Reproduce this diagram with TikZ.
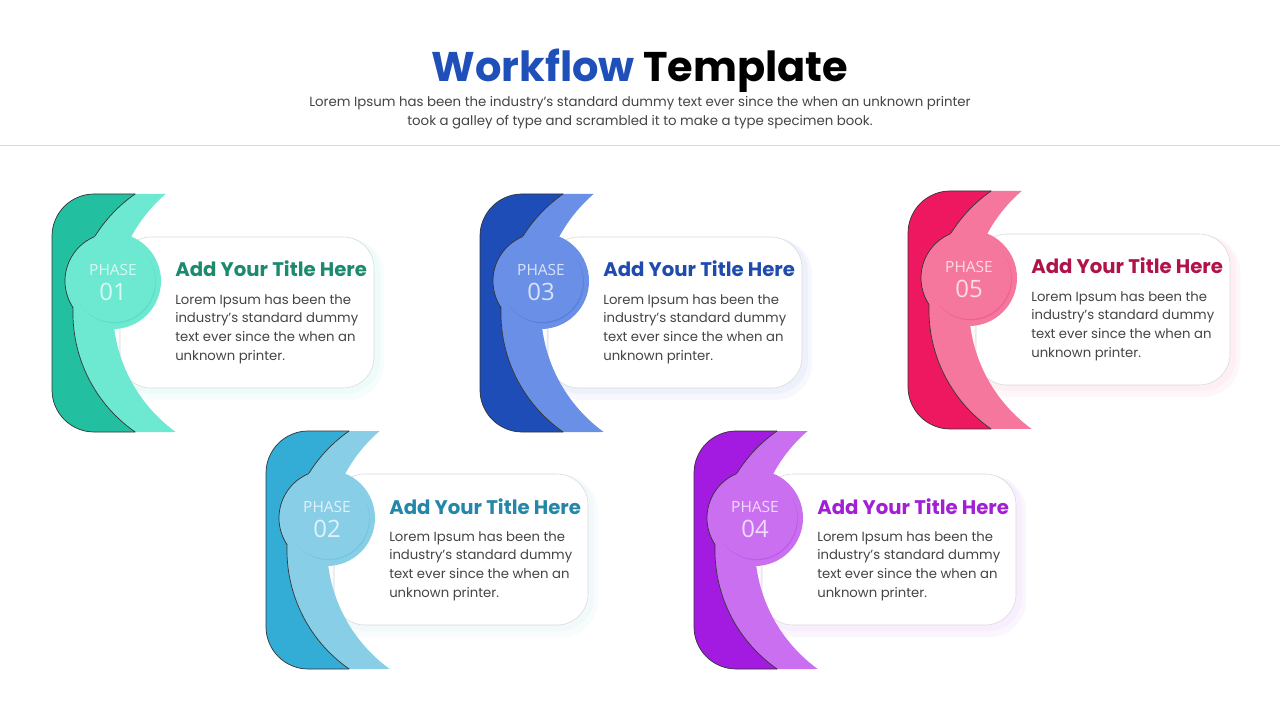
\documentclass[tikz,border=0pt]{standalone}
\usepackage{fontspec}
\setmainfont{Poppins}
\newfontfamily\phasefont{Open Sans}
\usepackage{tikz}

\definecolor{dark01}{HTML}{22BFA0}
\definecolor{light01}{HTML}{6DE8D1}
\definecolor{title01}{HTML}{1B8A6E}
\definecolor{dark02}{HTML}{33ACD6}
\definecolor{light02}{HTML}{88CEE6}
\definecolor{title02}{HTML}{2486A8}
\definecolor{dark03}{HTML}{1E4DB7}
\definecolor{light03}{HTML}{6A8FE6}
\definecolor{title03}{HTML}{1F4BAF}
\definecolor{dark04}{HTML}{A31AE0}
\definecolor{light04}{HTML}{C96FF0}
\definecolor{title04}{HTML}{A21FD6}
\definecolor{dark05}{HTML}{EE1860}
\definecolor{light05}{HTML}{F5779D}
\definecolor{title05}{HTML}{B0124A}
\definecolor{headblue}{HTML}{1F4FB8}
\definecolor{bodygray}{HTML}{444444}

\tikzset{
  phase/.style={inner sep=0pt, font=\phasefont\fontsize{11}{12}\selectfont},
  phasenum/.style={inner sep=0pt, font=\phasefont\fontsize{17}{18}\selectfont},
  cardtitle/.style={inner sep=0pt, anchor=base west, font=\bfseries\fontsize{14}{16}\selectfont},
  cardbody/.style={inner sep=0pt, anchor=north west, align=left, text=bodygray, font=\fontsize{9.4}{13.3}\selectfont},
  outline/.style={line width=0.5pt, black!80}
}

\begin{document}
\begin{tikzpicture}[x=0.025cm,y=-0.025cm]
		% Background
		\fill[white] (0,0) rectangle (1280,720);
		\useasboundingbox (0,0) rectangle (1280,720);
		
		% Header
		\node[anchor=base, inner sep=0pt] (head) at (640,82) {\fontsize{29.5}{34}\selectfont\bfseries\textcolor{headblue}{Workflow} Template};
		\node[anchor=base, inner sep=0pt, text=bodygray, font=\fontsize{9.47}{12}\selectfont] (sub1) at (640,107) {Lorem Ipsum has been the industry's standard dummy text ever since the when an unknown printer};
		\node[anchor=base, inner sep=0pt, text=bodygray, font=\fontsize{9.47}{12}\selectfont] (sub2) at (640,126) {took a galley of type and scrambled it to make a type specimen book.};
		\draw[black!15] (0,145) -- (1280,145);
		
		% Phases
		\foreach \n/\dx/\dy in {01/0/0, 02/214/237, 03/428/0, 04/642/237, 05/856/-3}{
		\begin{scope}[shift={(\dx,\dy)}]
			% Card
			\fill[light\n, opacity=0.06, rounded corners=26] (118,238) rectangle (384,400);
			\fill[light\n, opacity=0.06, rounded corners=24] (119,238) rectangle (380,394);
			\filldraw[fill=white, draw=black!15, rounded corners=22] (120,237) rectangle (374,388);
			
			% Band
			\begin{scope}
				\clip[rounded corners=30] (52,194) rectangle (215,432);
				\fill[dark\n, even odd rule] (0,150) rectangle (400,480) (218,313) circle (145);
				\fill[light\n, even odd rule] (218,313) circle (145) (265,309) circle (152);
			\end{scope}
			\draw[outline, rounded corners=30] (135.15,194) -- (52,194) -- (52,432) -- (135.15,432);
			\draw[outline] (135.15,432) arc[start angle=124.83, end angle=235.17, radius=145];
			
			% Circle
			\fill[light\n] (113,281) circle (48);
			\draw[outline] (113,281) ++(146:48) arc[start angle=146, end angle=247.5, radius=48];
			\fill[dark\n!25!light\n] (114.8,282.2) circle (41);
			\fill[light\n] (114,281) circle (41);
			\node[phase, text=light\n!25!white] (ph\n) at (113,270) {PHASE};
			\node[phasenum, text=light\n!25!white] (num\n) at (113,292) {\n};
			
			% Text
			\node[cardtitle, text=title\n] (t\n) at (175,277) {Add Your Title Here};
			\node[cardbody] (b\n) at (175,294) {Lorem Ipsum has been the\\industry's standard dummy\\text ever since the when an\\unknown printer.};
		\end{scope}
		}
	\end{tikzpicture}
\end{document}
